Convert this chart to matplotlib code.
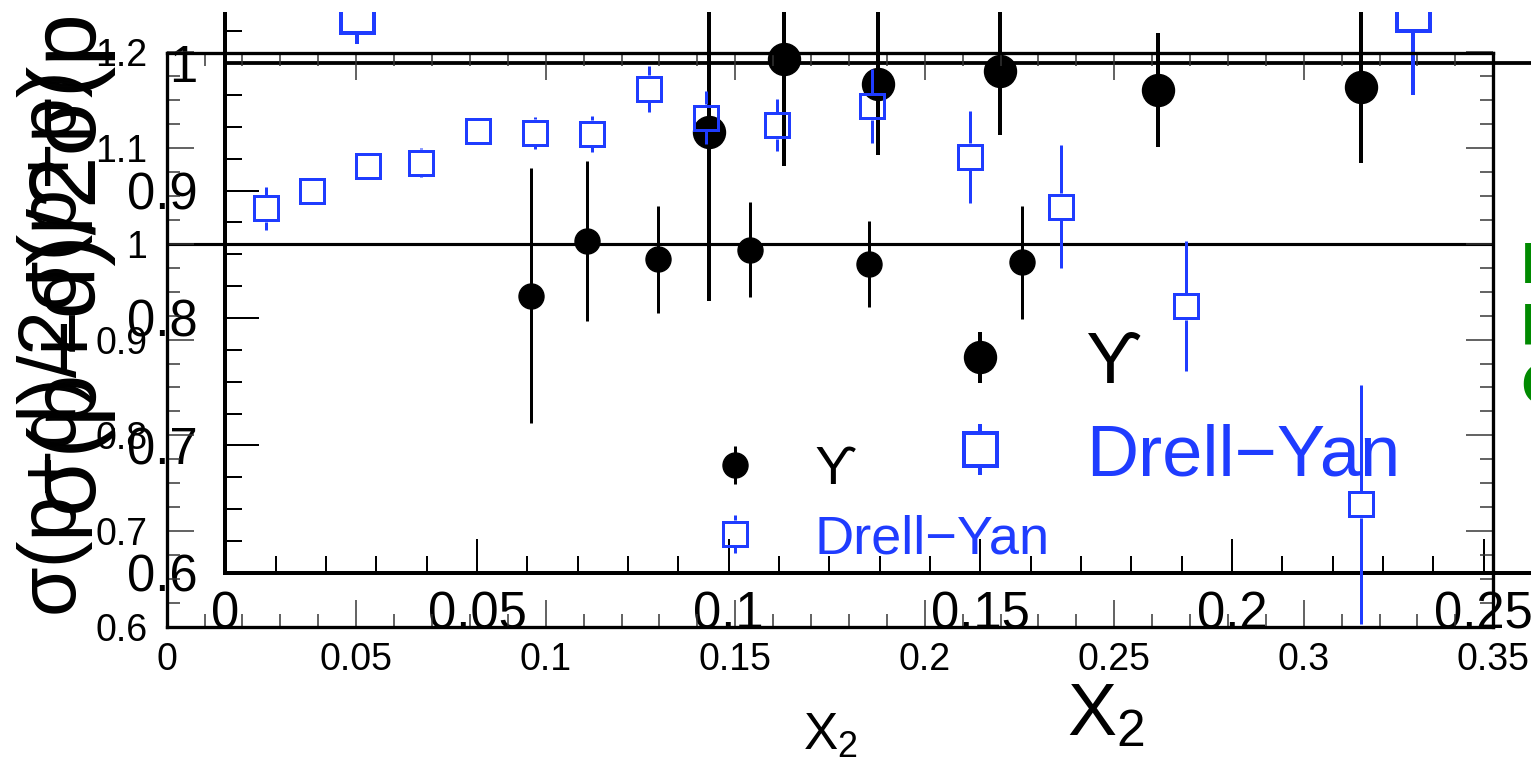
import numpy as np
import matplotlib
matplotlib.use('Agg')
import matplotlib.pyplot as plt
from matplotlib.patches import Rectangle
from matplotlib.ticker import MultipleLocator, FuncFormatter

plt.rcParams['font.family'] = ['Liberation Sans', 'DejaVu Sans']

# Drell-Yan ratio sigma(p+d)/2sigma(p+p) vs x2
dy_x = [0.0261, 0.0383, 0.0532, 0.0671, 0.0822, 0.0972, 0.1121, 0.1273,
        0.1422, 0.1611, 0.1860, 0.2120, 0.2360, 0.2689, 0.3151]
dy_y = [1.037, 1.055, 1.081, 1.085, 1.118, 1.116, 1.115, 1.162,
        1.132, 1.124, 1.144, 1.091, 1.039, 0.935, 0.728]
dy_err = [0.022, 0.014, 0.014, 0.015, 0.014, 0.017, 0.019, 0.024,
          0.028, 0.027, 0.039, 0.048, 0.064, 0.068, 0.125]

# Upsilon ratio
ups_x = [0.0961, 0.1110, 0.1296, 0.1539, 0.1853, 0.2256]
ups_y = [0.946, 1.003, 0.984, 0.994, 0.979, 0.981]
ups_err = [0.133, 0.084, 0.056, 0.050, 0.045, 0.059]

# legend entries (drawn in data coordinates, like a TLegend)
leg_x = 0.15
leg_y = [0.769, 0.697]
leg_err = 0.02
leg_text_x = 0.171
leg_labels = ['\u03d2', 'Drell\u2212Yan']

xlim = (0, 0.35)
ylim = (0.6, 1.2)

blue = '#1f3cff'
green = '#008a00'
W, H, DPI = 1531, 759, 100
PT = 72.0 / DPI  # points per pixel

fig = plt.figure(figsize=(W / DPI, H / DPI), dpi=DPI)


def fmt(v, pos):
    return '%g' % round(v, 3)


def make_axes(left, bottom, xscale, yscale):
    # axes placed in pixels, sized from pixels per data unit
    w = (xlim[1] - xlim[0]) * xscale
    h = (ylim[1] - ylim[0]) * yscale
    ax = fig.add_axes([left / W, (H - bottom) / H, w / W, h / H])
    ax.set_xlim(*xlim)
    ax.set_ylim(*ylim)
    ax.patch.set_alpha(0)
    ax.xaxis.set_major_locator(MultipleLocator(0.05))
    ax.xaxis.set_minor_locator(MultipleLocator(0.01))
    ax.yaxis.set_major_locator(MultipleLocator(0.1))
    ax.yaxis.set_minor_locator(MultipleLocator(0.025))
    ax.xaxis.set_major_formatter(FuncFormatter(fmt))
    ax.yaxis.set_major_formatter(FuncFormatter(fmt))
    return ax


def draw_panel(ax, lw_frame, ms_circ, ms_sq, lw_err, fs_tick, fs_text,
               fs_xlabel, fs_ylabel):
    for sp in ax.spines.values():
        sp.set_linewidth(lw_frame * PT)
    ax.axhline(1.0, color='black', lw=lw_frame * PT * 0.95, zorder=1)

    # Upsilon points + legend marker
    ax.errorbar(ups_x, ups_y, yerr=ups_err, fmt='o', color='black',
                ms=ms_circ * PT, elinewidth=lw_err * PT, capsize=0, zorder=3)
    ax.errorbar([leg_x], [leg_y[0]], yerr=leg_err, fmt='o', color='black',
                ms=ms_circ * PT, elinewidth=lw_err * PT, capsize=0, zorder=3)

    # Drell-Yan open squares, error bars stop at the marker edge
    pos = ax.get_position()
    h_px = pos.height * H
    units_per_px = (ylim[1] - ylim[0]) / h_px
    half = (ms_sq / 2 + lw_err / 2) * units_per_px
    xs = np.array(dy_x + [leg_x])
    ys = np.array(dy_y + [leg_y[1]])
    es = np.array(dy_err + [leg_err])
    ax.plot(xs, ys, ls='none', marker='s', ms=ms_sq * PT, mfc='none',
            mec=blue, mew=lw_err * PT, zorder=4)
    big = es > half
    ax.vlines(xs[big], ys[big] + half, ys[big] + es[big], color=blue,
              lw=lw_err * PT, zorder=4)
    ax.vlines(xs[big], ys[big] - es[big], ys[big] - half, color=blue,
              lw=lw_err * PT, zorder=4)

    ax.text(leg_text_x, leg_y[0], leg_labels[0], fontsize=fs_text,
            va='center_baseline', ha='left', color='black')
    ax.text(leg_text_x, leg_y[1], leg_labels[1], fontsize=fs_text,
            va='center_baseline', ha='left', color=blue)

    ax.tick_params(axis='both', labelsize=fs_tick)
    ax.set_xlabel(r'$\mathregular{X_2}$', fontsize=fs_xlabel)
    ax.set_ylabel('\u03c3(p+d)/2\u03c3(p+p)', fontsize=fs_ylabel)


# enlarged copy of the figure, extending off the canvas
axB = make_axes(225.5, 572.7, 5033, 1273.5)
axB.spines['top'].set_visible(False)
axB.spines['right'].set_visible(False)
axB.tick_params(which='both', direction='in', width=2 * PT, color='black')
axB.tick_params(which='major', length=34 * PT, pad=13)
axB.tick_params(which='minor', length=17 * PT)
axB.tick_params(axis='y', pad=20)
draw_panel(axB, 4.0, 32, 33, 4.0, 36.5, 52, 53, 68)
axB.xaxis.labelpad = 30
axB.yaxis.labelpad = 11

# main figure
axA = make_axes(166.7, 626.7, 3790, 957)
axA.tick_params(which='both', direction='in', top=True, right=True,
                width=1.5 * PT, color='#333333')
axA.tick_params(which='major', length=27 * PT, pad=11)
axA.tick_params(which='minor', length=13 * PT)
axA.tick_params(axis='y', pad=14)
draw_panel(axA, 3.3, 25, 24, 3.0, 27, 39, 37, 58)
axA.xaxis.labelpad = 24
axA.yaxis.labelpad = 4

# green side notes
for txt, yc in zip(['L', 'F', 'C'], [262, 322, 382]):
    fig.text(1520 / W, 1 - yc / H, txt, color=green, fontsize=40,
             fontweight='bold', family='DejaVu Sans', ha='left',
             va='center_baseline')

# blank strip along the top edge
fig.add_artist(Rectangle((0, 1 - 12 / H), 1, 12 / H, transform=fig.transFigure,
                         facecolor='white', edgecolor='none', zorder=20))

fig.savefig('out.png', dpi=DPI, facecolor='white')
